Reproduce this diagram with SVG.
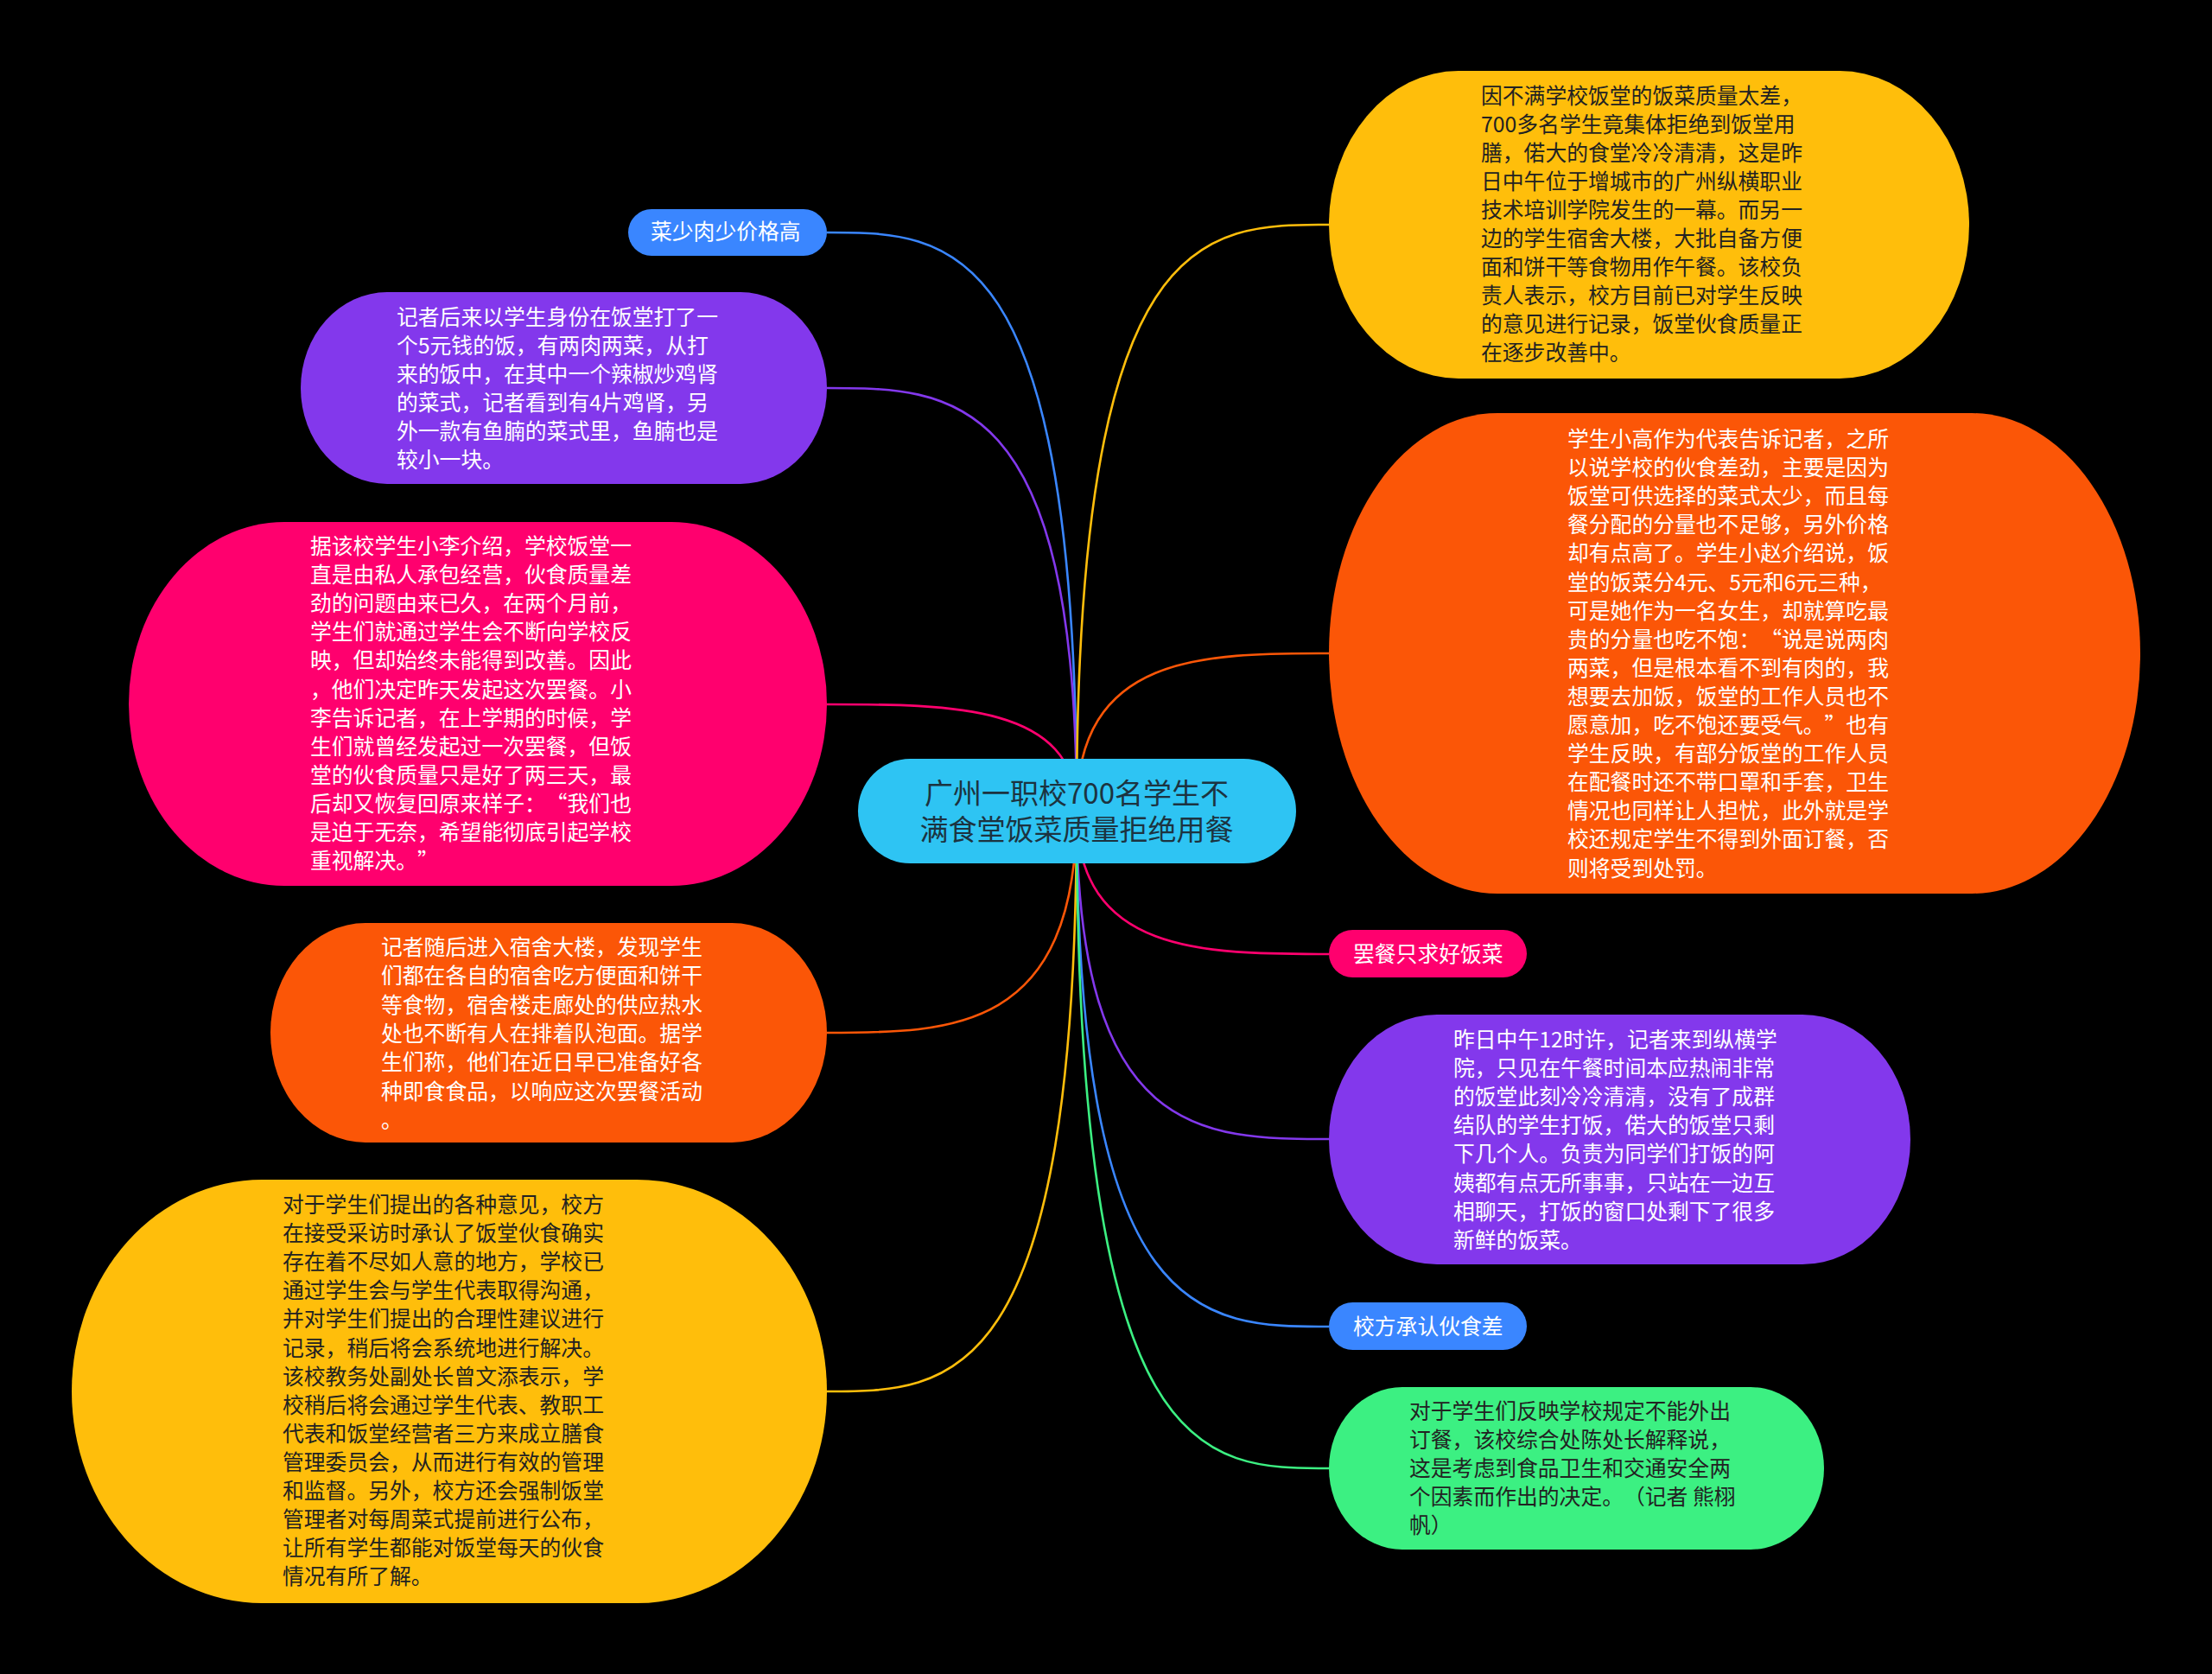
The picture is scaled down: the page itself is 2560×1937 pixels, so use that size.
<svg xmlns="http://www.w3.org/2000/svg" width="2560" height="1937" viewBox="0 0 2560 1937">
<style>
.t{font-family:"Noto Sans CJK SC","Noto Sans",sans-serif;font-size:24.8px;text-spacing-trim:space-all}
.c{font-family:"Noto Sans CJK SC","Noto Sans",sans-serif;font-size:33px;fill:#1c3340;text-anchor:middle}
.w{fill:#ffffff}
.d{fill:#222222}
.ln{fill:none;stroke-width:2.6}
</style>
<rect x="0" y="0" width="2560" height="1937" fill="#000000"/>
<g id="connectors">
<path class="ln" stroke="#3A86FF" d="M1246,938 C1246,269 1101,269 957,269"/>
<path class="ln" stroke="#8338EC" d="M1246,938 C1246,449 1101,449 957,449"/>
<path class="ln" stroke="#FF006E" d="M1246,938 C1246,815 1101,815 957,815"/>
<path class="ln" stroke="#FB5607" d="M1246,938 C1246,1195 1101,1195 957,1195"/>
<path class="ln" stroke="#FFBE0B" d="M1246,938 C1246,1610 1101,1610 957,1610"/>
<path class="ln" stroke="#FFBE0B" d="M1246,938 C1246,260 1392,260 1538,260"/>
<path class="ln" stroke="#FB5607" d="M1246,938 C1246,756 1392,756 1538,756"/>
<path class="ln" stroke="#FF006E" d="M1246,938 C1246,1104 1392,1104 1538,1104"/>
<path class="ln" stroke="#8338EC" d="M1246,938 C1246,1318 1392,1318 1538,1318"/>
<path class="ln" stroke="#3A86FF" d="M1246,938 C1246,1535 1392,1535 1538,1535"/>
<path class="ln" stroke="#3CF082" d="M1246,938 C1246,1699 1392,1699 1538,1699"/>
</g>
<g id="center">
<rect x="993" y="878" width="507" height="121" rx="60.5" fill="#2EC4F3"/>
<text class="c"><tspan x="1246" y="930">广州一职校700名学生不</tspan><tspan x="1246" y="972">满食堂饭菜质量拒绝用餐</tspan></text>
</g>
<g id="r1">
<rect x="1538" y="82" width="741" height="356" rx="150" ry="178" fill="#FFBE0B"/>
<text class="t d">
<tspan x="1714" y="120">因不满学校饭堂的饭菜质量太差，</tspan>
<tspan x="1714" y="153">700多名学生竟集体拒绝到饭堂用</tspan>
<tspan x="1714" y="186">膳，偌大的食堂冷冷清清，这是昨</tspan>
<tspan x="1714" y="219">日中午位于增城市的广州纵横职业</tspan>
<tspan x="1714" y="252">技术培训学院发生的一幕。而另一</tspan>
<tspan x="1714" y="285">边的学生宿舍大楼，大批自备方便</tspan>
<tspan x="1714" y="318">面和饼干等食物用作午餐。该校负</tspan>
<tspan x="1714" y="351">责人表示，校方目前已对学生反映</tspan>
<tspan x="1714" y="384">的意见进行记录，饭堂伙食质量正</tspan>
<tspan x="1714" y="417">在逐步改善中。</tspan>
</text>
</g>
<g id="r2">
<rect x="1538" y="478" width="939" height="556" rx="195" ry="278" fill="#FB5607"/>
<text class="t w">
<tspan x="1814" y="517">学生小高作为代表告诉记者，之所</tspan>
<tspan x="1814" y="550.1">以说学校的伙食差劲，主要是因为</tspan>
<tspan x="1814" y="583.2">饭堂可供选择的菜式太少，而且每</tspan>
<tspan x="1814" y="616.3">餐分配的分量也不足够，另外价格</tspan>
<tspan x="1814" y="649.4">却有点高了。学生小赵介绍说，饭</tspan>
<tspan x="1814" y="682.5">堂的饭菜分4元、5元和6元三种，</tspan>
<tspan x="1814" y="715.6">可是她作为一名女生，却就算吃最</tspan>
<tspan x="1814" y="748.7">贵的分量也吃不饱：“说是说两肉</tspan>
<tspan x="1814" y="781.8">两菜，但是根本看不到有肉的，我</tspan>
<tspan x="1814" y="814.9">想要去加饭，饭堂的工作人员也不</tspan>
<tspan x="1814" y="848">愿意加，吃不饱还要受气。”也有</tspan>
<tspan x="1814" y="881.1">学生反映，有部分饭堂的工作人员</tspan>
<tspan x="1814" y="914.2">在配餐时还不带口罩和手套，卫生</tspan>
<tspan x="1814" y="947.3">情况也同样让人担忧，此外就是学</tspan>
<tspan x="1814" y="980.4">校还规定学生不得到外面订餐，否</tspan>
<tspan x="1814" y="1013.5">则将受到处罚。</tspan>
</text>
</g>
<g id="r3">
<rect x="1538" y="1076" width="229" height="55" rx="27.5" fill="#FF006E"/>
<text class="t w" x="1566" y="1113">罢餐只求好饭菜</text>
</g>
<g id="r4">
<rect x="1538" y="1174" width="673" height="289" rx="125" ry="144.5" fill="#8338EC"/>
<text class="t w">
<tspan x="1682" y="1212">昨日中午12时许，记者来到纵横学</tspan>
<tspan x="1682" y="1245.1">院，只见在午餐时间本应热闹非常</tspan>
<tspan x="1682" y="1278.2">的饭堂此刻冷冷清清，没有了成群</tspan>
<tspan x="1682" y="1311.3">结队的学生打饭，偌大的饭堂只剩</tspan>
<tspan x="1682" y="1344.4">下几个人。负责为同学们打饭的阿</tspan>
<tspan x="1682" y="1377.5">姨都有点无所事事，只站在一边互</tspan>
<tspan x="1682" y="1410.6">相聊天，打饭的窗口处剩下了很多</tspan>
<tspan x="1682" y="1443.7">新鲜的饭菜。</tspan>
</text>
</g>
<g id="r5">
<rect x="1538" y="1507" width="229" height="55" rx="27.5" fill="#3A86FF"/>
<text class="t w" x="1566" y="1544">校方承认伙食差</text>
</g>
<g id="r6">
<rect x="1538" y="1605" width="573" height="188" rx="85" ry="94" fill="#3CF082"/>
<text class="t d">
<tspan x="1631" y="1642">对于学生们反映学校规定不能外出</tspan>
<tspan x="1631" y="1675">订餐，该校综合处陈处长解释说，</tspan>
<tspan x="1631" y="1708">这是考虑到食品卫生和交通安全两</tspan>
<tspan x="1631" y="1741">个因素而作出的决定。（记者 熊栩</tspan>
<tspan x="1631" y="1774">帆）</tspan>
</text>
</g>
<g id="l1">
<rect x="727" y="242" width="230" height="54" rx="27" fill="#3A86FF"/>
<text class="t w" x="753" y="277">菜少肉少价格高</text>
</g>
<g id="l2">
<rect x="348" y="338" width="609" height="222" rx="100" ry="111" fill="#8338EC"/>
<text class="t w">
<tspan x="459" y="376">记者后来以学生身份在饭堂打了一</tspan>
<tspan x="459" y="409">个5元钱的饭，有两肉两菜，从打</tspan>
<tspan x="459" y="442">来的饭中，在其中一个辣椒炒鸡肾</tspan>
<tspan x="459" y="475">的菜式，记者看到有4片鸡肾，另</tspan>
<tspan x="459" y="508">外一款有鱼腩的菜式里，鱼腩也是</tspan>
<tspan x="459" y="541">较小一块。</tspan>
</text>
</g>
<g id="l3">
<rect x="149" y="604" width="808" height="421" rx="180" ry="210.5" fill="#FF006E"/>
<text class="t w">
<tspan x="359" y="641">据该校学生小李介绍，学校饭堂一</tspan>
<tspan x="359" y="674.1">直是由私人承包经营，伙食质量差</tspan>
<tspan x="359" y="707.2">劲的问题由来已久，在两个月前，</tspan>
<tspan x="359" y="740.3">学生们就通过学生会不断向学校反</tspan>
<tspan x="359" y="773.4">映，但却始终未能得到改善。因此</tspan>
<tspan x="359" y="806.5">，他们决定昨天发起这次罢餐。小</tspan>
<tspan x="359" y="839.6">李告诉记者，在上学期的时候，学</tspan>
<tspan x="359" y="872.7">生们就曾经发起过一次罢餐，但饭</tspan>
<tspan x="359" y="905.8">堂的伙食质量只是好了两三天，最</tspan>
<tspan x="359" y="938.9">后却又恢复回原来样子：“我们也</tspan>
<tspan x="359" y="972">是迫于无奈，希望能彻底引起学校</tspan>
<tspan x="359" y="1005.1">重视解决。”</tspan>
</text>
</g>
<g id="l4">
<rect x="313" y="1068" width="644" height="254" rx="110" ry="127" fill="#FB5607"/>
<text class="t w">
<tspan x="441" y="1105">记者随后进入宿舍大楼，发现学生</tspan>
<tspan x="441" y="1138.3">们都在各自的宿舍吃方便面和饼干</tspan>
<tspan x="441" y="1171.6">等食物，宿舍楼走廊处的供应热水</tspan>
<tspan x="441" y="1204.9">处也不断有人在排着队泡面。据学</tspan>
<tspan x="441" y="1238.2">生们称，他们在近日早已准备好各</tspan>
<tspan x="441" y="1271.5">种即食食品，以响应这次罢餐活动</tspan>
<tspan x="441" y="1304.8">。</tspan>
</text>
</g>
<g id="l5">
<rect x="83" y="1365" width="874" height="490" rx="220" ry="245" fill="#FFBE0B"/>
<text class="t d">
<tspan x="327" y="1403">对于学生们提出的各种意见，校方</tspan>
<tspan x="327" y="1436.1">在接受采访时承认了饭堂伙食确实</tspan>
<tspan x="327" y="1469.2">存在着不尽如人意的地方，学校已</tspan>
<tspan x="327" y="1502.3">通过学生会与学生代表取得沟通，</tspan>
<tspan x="327" y="1535.4">并对学生们提出的合理性建议进行</tspan>
<tspan x="327" y="1568.5">记录，稍后将会系统地进行解决。</tspan>
<tspan x="327" y="1601.6">该校教务处副处长曾文添表示，学</tspan>
<tspan x="327" y="1634.7">校稍后将会通过学生代表、教职工</tspan>
<tspan x="327" y="1667.8">代表和饭堂经营者三方来成立膳食</tspan>
<tspan x="327" y="1700.9">管理委员会，从而进行有效的管理</tspan>
<tspan x="327" y="1734">和监督。另外，校方还会强制饭堂</tspan>
<tspan x="327" y="1767.1">管理者对每周菜式提前进行公布，</tspan>
<tspan x="327" y="1800.2">让所有学生都能对饭堂每天的伙食</tspan>
<tspan x="327" y="1833.3">情况有所了解。</tspan>
</text>
</g>
</svg>
